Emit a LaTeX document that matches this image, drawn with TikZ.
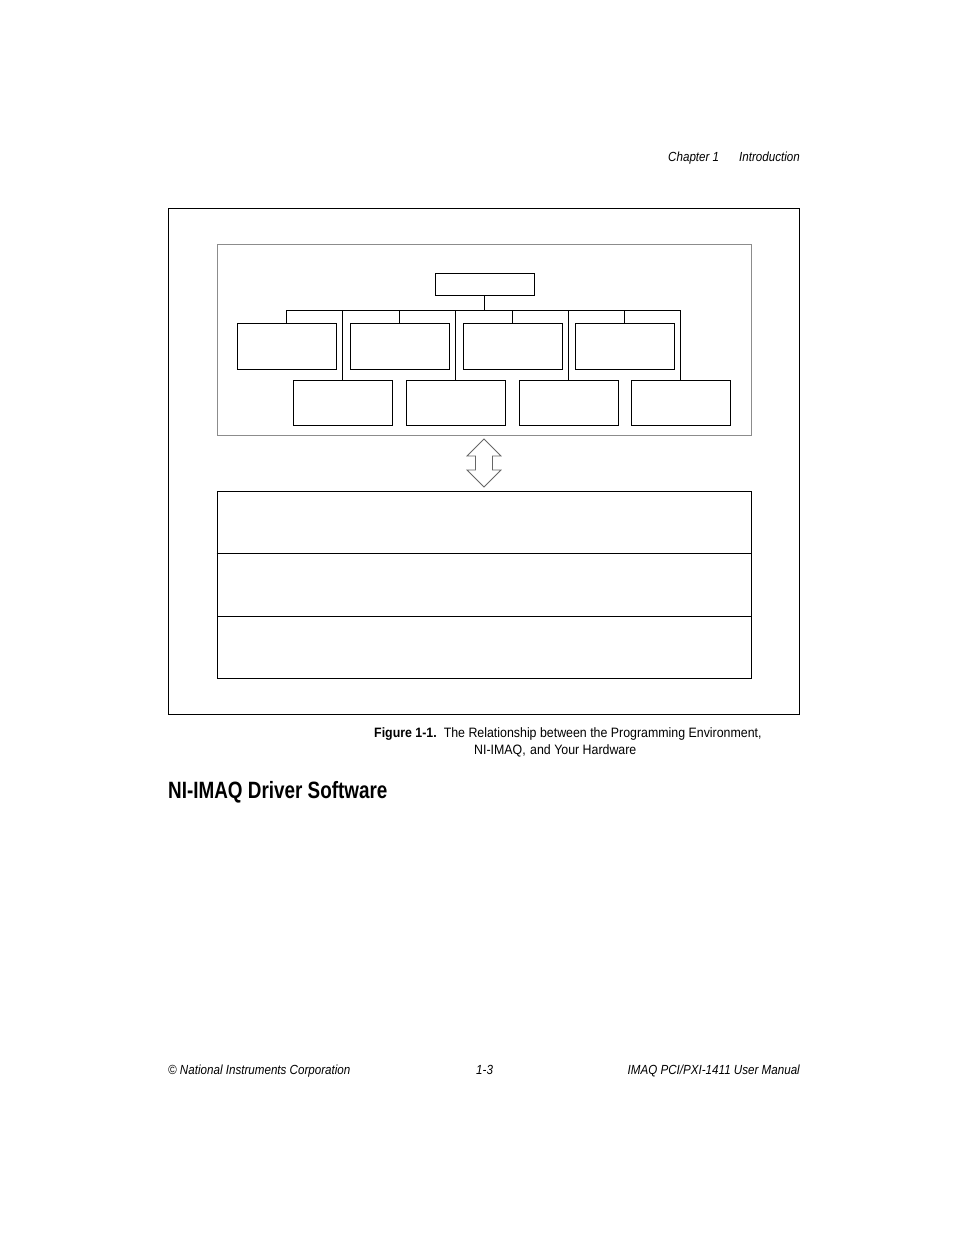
\documentclass[tikz,border=0pt]{standalone}
\usepackage{fontspec}
\setmainfont{Liberation Sans}[FakeStretch=0.80]
\newfontfamily\capfont{Liberation Sans}[FakeStretch=0.91]
\newfontfamily\itfont{Liberation Sans}[FakeStretch=0.88]
\begin{document}
\begin{tikzpicture}[x=1pt,y=-1pt,
  box/.style={draw=black,line width=0.9pt,inner sep=0pt},
  wire/.style={draw=black,line width=0.9pt},
  small/.style={font=\capfont\fontsize{13.6}{16}\selectfont,inner sep=0pt},
  smallit/.style={font=\itfont\fontsize{13.2}{16}\selectfont\itshape,inner sep=0pt}]
\useasboundingbox (0,0) rectangle (954,1235);
% header
\node[smallit,anchor=base west] (ch) at (668,161) {Chapter 1};
\node[smallit,anchor=base east] (intro) at (800,161) {Introduction};
% frames
\draw[line width=0.9pt] (168,208) rectangle (799,714);
\draw[draw=black!45,line width=1pt] (217,244) rectangle (751,435);
% top box
\node[box,minimum width=99pt,minimum height=22pt] (top) at (484.5,284) {};
% upper boxes
\foreach \i/\x in {1/286.5,2/399.5,3/512.5,4/624.5}{
  \node[box,minimum width=99pt,minimum height=46pt] (u\i) at (\x,346) {};
}
% lower boxes
\foreach \i/\x in {1/342.5,2/455.5,3/568.5,4/680.5}{
  \node[box,minimum width=99pt,minimum height=45pt] (l\i) at (\x,402.5) {};
}
% connectors
\coordinate (bus) at (484.5,310);
\coordinate (busL) at (286.5,310);
\coordinate (busR) at (680.5,310);
\draw[wire] (top.south) -- (bus);
\draw[wire] (busL) -- (busR);
\foreach \i in {1,2,3,4}{
  \draw[wire] (u\i.north |- bus) -- (u\i.north);
  \draw[wire] (l\i.north |- bus) -- (l\i.north);
}
% double arrow
\draw[draw=black!60,line width=0.8pt,fill=white]
  (484,439) -- (501,456) -- (492.5,456) -- (492.5,470) -- (501,470) -- (484,487)
  -- (467,470) -- (475.5,470) -- (475.5,456) -- (467,456) -- cycle;
% lower stack
\node[box,minimum width=534pt,minimum height=62pt] (s1) at (484,522) {};
\node[box,minimum width=534pt,minimum height=63pt] (s2) at (484,584.5) {};
\node[box,minimum width=534pt,minimum height=62pt] (s3) at (484,647) {};
\draw[line width=1.6pt] (s1.south west) -- (s1.south east);
% caption
\node[small,anchor=base west] (cap1) at (374,737) {\textbf{Figure 1-1.}\hspace{7pt}The Relationship between the Programming Environment,};
\node[small,anchor=base west] (cap2) at (474,754) {NI-IMAQ,\hspace{1pt} and Your Hardware};
% heading
\node[anchor=base west,inner sep=0pt,font=\fontsize{23.6}{28}\selectfont\bfseries] (head) at (168,798) {NI-IMAQ Driver Software};
% footer
\node[smallit,anchor=base west] (f1) at (168,1074) {© National Instruments Corporation};
\node[smallit,anchor=base west] (f2) at (476,1074) {1-3};
\node[smallit,anchor=base east] (f3) at (800,1074) {IMAQ PCI/PXI-1411 User Manual};
\end{tikzpicture}
\end{document}
